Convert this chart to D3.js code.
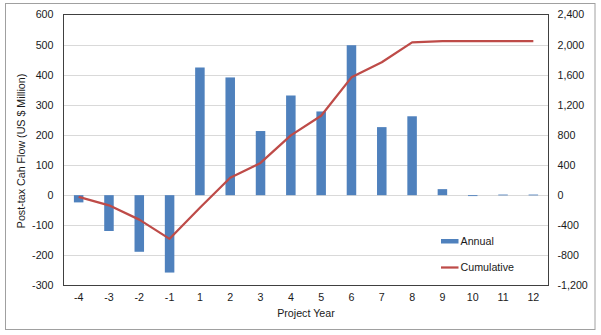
<!DOCTYPE html>
<html>
<head>
<meta charset="utf-8">
<script src="https://cdn.jsdelivr.net/npm/d3@7"></script>
<style>
  html, body { margin: 0; padding: 0; background: #fff; }
  svg { display: block; }
  text { font-family: "Liberation Sans", Arial, sans-serif; fill: #1a1a1a; }
</style>
</head>
<body>
<svg id="chart" width="601" height="335"></svg>
<script>
// Project years along the category axis
const years = ["-4", "-3", "-2", "-1", "1", "2", "3", "4", "5", "6", "7", "8", "9", "10", "11", "12"];
// Annual post-tax cash flow (US $ million), left axis
const annual = [-24, -119, -188, -257, 424, 391, 213, 331, 278, 498, 226, 262, 20, -3, 2, 2];
// Cumulative post-tax cash flow (US $ million), right axis
const cumulative = [-22, -135, -325, -580, -168, 232, 428, 795, 1055, 1565, 1765, 2030, 2046, 2045, 2046, 2047];
// Axis tick values
const leftTicks = [600, 500, 400, 300, 200, 100, 0, -100, -200, -300];
const rightTicks = [2400, 2000, 1600, 1200, 800, 400, 0, -400, -800, -1200];

// Number formatting with a plain hyphen for negatives
const locale = d3.formatLocale({ decimal: ".", thousands: ",", grouping: [3], currency: ["$", ""], minus: "-" });

const svg = d3.select("#chart");
const plot = { left: 63.5, right: 548.5, top: 14.5, bottom: 285.5 };
const fs = 10.7;

// Outer chart frame
svg.append("rect")
  .attr("x", 5.5).attr("y", 3.5)
  .attr("width", 589.5).attr("height", 326)
  .attr("fill", "#fff").attr("stroke", "#a0a0a0").attr("stroke-width", 1);

const x = d3.scaleBand()
  .domain(years)
  .range([plot.left, plot.right])
  .paddingInner(0.686)
  .paddingOuter(0.343);

const yL = d3.scaleLinear().domain([-300, 600]).range([plot.bottom, plot.top]);
const yR = d3.scaleLinear().domain([-1200, 2400]).range([plot.bottom, plot.top]);

// Horizontal gridlines
svg.append("g")
  .selectAll("line")
  .data(leftTicks.filter(d => d !== 600 && d !== -300))
  .join("line")
  .attr("x1", plot.left).attr("x2", plot.right)
  .attr("y1", d => Math.round(yL(d)) + 0.5).attr("y2", d => Math.round(yL(d)) + 0.5)
  .attr("stroke", "#d9d9d9").attr("stroke-width", 1);

// Annual bars
svg.append("g")
  .selectAll("rect")
  .data(annual)
  .join("rect")
  .attr("x", (d, i) => x(years[i]))
  .attr("width", x.bandwidth())
  .attr("y", d => yL(Math.max(0, d)))
  .attr("height", d => Math.max(0.8, Math.abs(yL(d) - yL(0))))
  .attr("fill", "#4f81bd");

// Cumulative line
const line = d3.line()
  .x((d, i) => x(years[i]) + x.bandwidth() / 2)
  .y(d => yR(d));
svg.append("path")
  .datum(cumulative)
  .attr("d", line)
  .attr("fill", "none")
  .attr("stroke", "#be4b48")
  .attr("stroke-width", 2.25)
  .attr("stroke-linejoin", "round");

// Plot area border
svg.append("rect")
  .attr("x", plot.left).attr("y", plot.top)
  .attr("width", plot.right - plot.left).attr("height", plot.bottom - plot.top)
  .attr("fill", "none").attr("stroke", "#404040").attr("stroke-width", 1);

// Left axis
const leftAxis = svg.append("g")
  .attr("transform", `translate(${plot.left},0)`)
  .call(d3.axisLeft(yL).tickValues(leftTicks).tickSize(0).tickPadding(10).tickFormat(locale.format("d")));
leftAxis.select(".domain").remove();
leftAxis.selectAll("text").style("font-size", fs + "px").attr("fill", "#1a1a1a");

// Right axis
const rightAxis = svg.append("g")
  .attr("transform", `translate(${plot.right},0)`)
  .call(d3.axisRight(yR).tickValues(rightTicks).tickSize(0).tickPadding(9).tickFormat(locale.format(",")));
rightAxis.select(".domain").remove();
rightAxis.selectAll("text").style("font-size", fs + "px").attr("fill", "#1a1a1a");

// Category axis
const bottomAxis = svg.append("g")
  .attr("transform", `translate(0,${plot.bottom})`)
  .call(d3.axisBottom(x).tickSize(0).tickPadding(8));
bottomAxis.select(".domain").remove();
bottomAxis.selectAll("text").style("font-size", fs + "px").attr("fill", "#1a1a1a");

// Axis titles
svg.append("text")
  .attr("x", (plot.left + plot.right) / 2)
  .attr("y", 316.5)
  .attr("text-anchor", "middle")
  .style("font-size", fs + "px")
  .text("Project Year");

svg.append("text")
  .attr("transform", `translate(24.5,${(plot.top + plot.bottom) / 2 + 1}) rotate(-90)`)
  .attr("text-anchor", "middle")
  .style("font-size", fs + "px")
  .text("Post-tax Cah Flow (US $ Million)");

// Legend
const legend = svg.append("g");
legend.append("rect")
  .attr("x", 441).attr("y", 239).attr("width", 17.5).attr("height", 4.5)
  .attr("fill", "#4f81bd");
legend.append("text")
  .attr("x", 460.5).attr("y", 241.5).attr("dy", "0.35em")
  .style("font-size", fs + "px").text("Annual");
legend.append("line")
  .attr("x1", 441).attr("x2", 458.5).attr("y1", 267.5).attr("y2", 267.5)
  .attr("stroke", "#be4b48").attr("stroke-width", 2.25);
legend.append("text")
  .attr("x", 460.5).attr("y", 267.5).attr("dy", "0.35em")
  .style("font-size", fs + "px").text("Cumulative");
</script>
</body>
</html>
